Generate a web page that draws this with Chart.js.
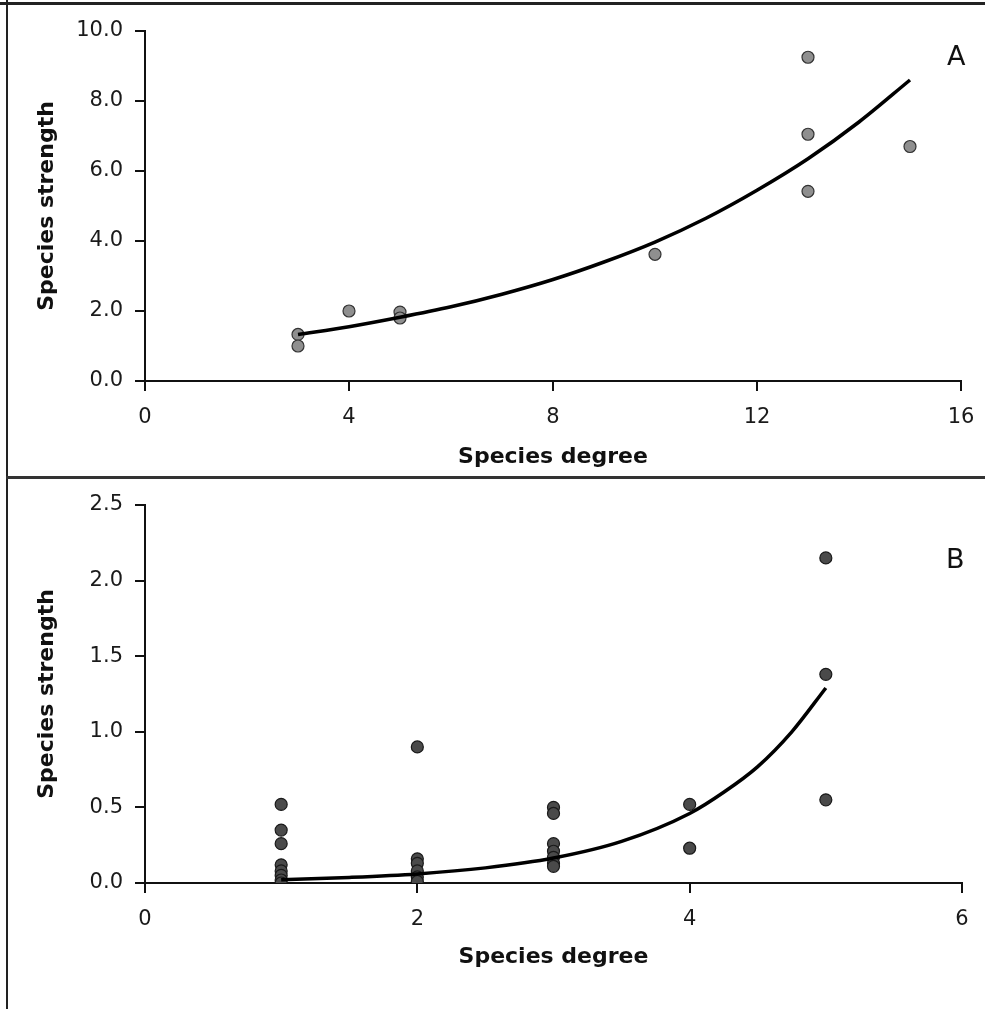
<!DOCTYPE html>
<html>
<head>
<meta charset="utf-8">
<script src="https://cdn.jsdelivr.net/npm/chart.js@4/dist/chart.umd.min.js"></script>
<style>
  body { margin: 0; background: #fff; }
  #page { position: relative; width: 985px; height: 1009px; overflow: hidden; }
  .frame { position: absolute; background: #222; }
  .wrap { position: absolute; left: 8px; width: 977px; }
  .tag { position: absolute; font: 27px "DejaVu Sans", sans-serif; color: #111; }
</style>
</head>
<body>
<div id="page">
  <div class="frame" style="left:0;top:2px;width:985px;height:3px"></div>
  <div class="frame" style="left:6px;top:0;width:2px;height:1009px"></div>
  <div class="frame" style="left:6px;top:476px;width:979px;height:3px;background:#333"></div>

  <div class="wrap" style="top:5px;height:471px"><canvas id="chartA"></canvas></div>
  <div class="wrap" style="top:479px;height:530px"><canvas id="chartB"></canvas></div>

  <div class="tag" style="left:947px;top:40px">A</div>
  <div class="tag" style="left:946px;top:543px">B</div>
</div>
<script>
// panel A
const degreeA = [3, 3, 4, 5, 5, 10, 13, 13, 13, 15]
const strengthA = [1.33, 1.0, 2.0, 1.97, 1.8, 3.62, 9.25, 7.05, 5.42, 6.7]
const fitDegreeA = [3, 4, 5, 6, 7, 8, 9, 10, 11, 12, 13, 14, 15]
const fitStrengthA = [1.33, 1.55, 1.82, 2.12, 2.48, 2.9, 3.4, 3.97, 4.65, 5.45, 6.35, 7.4, 8.6]

// panel B
const degreeB = [1, 1, 1, 1, 1, 1, 1, 1,
                 2, 2, 2, 2, 2, 2,
                 3, 3, 3, 3, 3, 3, 3,
                 4, 4,
                 5, 5, 5]
const strengthB = [0.52, 0.35, 0.26, 0.12, 0.08, 0.05, 0.02, 0.0,
                   0.9, 0.16, 0.13, 0.08, 0.04, 0.01,
                   0.5, 0.46, 0.26, 0.21, 0.17, 0.13, 0.11,
                   0.52, 0.23,
                   2.15, 1.38, 0.55]
const fitDegreeB = [1, 1.5, 2, 2.5, 3, 3.5, 4, 4.25, 4.5, 4.75, 5]
const fitStrengthB = [0.022, 0.037, 0.06, 0.1, 0.165, 0.275, 0.46, 0.6, 0.77, 1.0, 1.29]

const xTitle = 'Species degree'
const yTitle = 'Species strength'

const tickFont = { family: 'DejaVu Sans', size: 21 }
const titleFont = { family: 'DejaVu Sans', size: 22, weight: 'bold' }

const toPoints = (xs, ys) => xs.map((x, i) => ({ x: x, y: ys[i] }))

const makeChart = (id, cfg) => {
    const axisGrid = {
        drawOnChartArea: false,
        drawTicks: true,
        tickLength: 10,
        color: '#111',
        lineWidth: 2
    }
    return new Chart(document.getElementById(id), {
        type: 'scatter',
        data: {
            datasets: [{
                data: toPoints(cfg.px, cfg.py),
                pointRadius: cfg.radius,
                pointBackgroundColor: cfg.fill,
                pointBorderColor: cfg.stroke,
                pointBorderWidth: 1.2,
                order: 1
            }, {
                type: 'line',
                data: toPoints(cfg.fx, cfg.fy),
                borderColor: '#000',
                borderWidth: 3.5,
                pointRadius: 0,
                cubicInterpolationMode: 'monotone',
                fill: false,
                order: 0
            }]
        },
        options: {
            responsive: true,
            maintainAspectRatio: false,
            animation: false,
            events: [],
            layout: { padding: { top: 26, right: cfg.right, left: 0, bottom: 0 } },
            plugins: { legend: { display: false }, tooltip: { enabled: false } },
            scales: {
                x: {
                    type: 'linear',
                    min: cfg.xMin, max: cfg.xMax,
                    ticks: { stepSize: cfg.xStep, font: tickFont, color: '#1a1a1a', padding: 14, maxRotation: 0 },
                    grid: axisGrid,
                    border: { color: '#111', width: 2 },
                    title: { display: true, text: xTitle, font: titleFont, color: '#111', padding: { top: 0, bottom: cfg.xTitlePad } },
                    afterFit: s => {
                        s.height = cfg.xHeight
                        s.paddingLeft = 0
                        s.paddingRight = 0
                    }
                },
                y: {
                    type: 'linear',
                    min: cfg.yMin, max: cfg.yMax,
                    ticks: { stepSize: cfg.yStep, font: tickFont, color: '#1a1a1a', padding: 12,
                             callback: v => v.toFixed(1) },
                    grid: axisGrid,
                    border: { color: '#111', width: 2 },
                    title: { display: true, text: yTitle, font: titleFont, color: '#111', padding: { top: 26, bottom: 0 } },
                    afterFit: s => { s.width = 137 }
                }
            }
        }
    })
}

makeChart('chartA', {
    px: degreeA, py: strengthA, fx: fitDegreeA, fy: fitStrengthA,
    radius: 6, fill: '#8f8f8f', stroke: '#333',
    xMin: 0, xMax: 16, xStep: 4, yMin: 0, yMax: 10, yStep: 2,
    right: 24, xHeight: 95, xTitlePad: 6
})

makeChart('chartB', {
    px: degreeB, py: strengthB, fx: fitDegreeB, fy: fitStrengthB,
    radius: 6, fill: '#4a4a4a', stroke: '#1a1a1a',
    xMin: 0, xMax: 6, xStep: 2, yMin: 0, yMax: 2.5, yStep: 0.5,
    right: 23, xHeight: 126, xTitlePad: 39
})
</script>
</body>
</html>
